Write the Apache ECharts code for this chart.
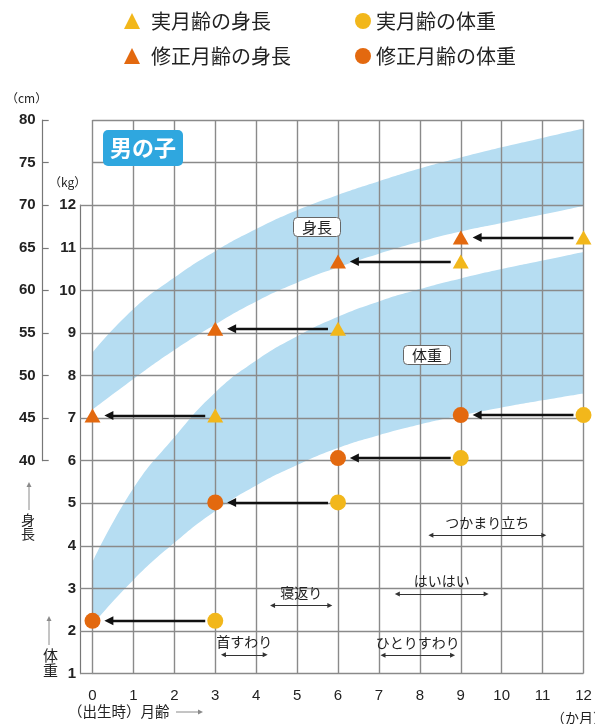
<!DOCTYPE html>
<html><head><meta charset="utf-8">
<script src="https://cdn.jsdelivr.net/npm/echarts@6/dist/echarts.min.js"></script>
<style>html,body{margin:0;padding:0;background:#fff}#c{width:595px;height:724px}</style>
</head><body><div id="c"></div>
<script>
// ---- data ----
const months = [0,1,2,3,4,5,6,7,8,9,10,11,12];
const heightLow  = [46.0,49.6,53.0,56.0,58.7,60.9,62.7,64.3,65.7,66.9,67.9,68.9,69.9];   // cm
const heightHigh = [52.7,57.8,61.5,64.6,67.2,69.4,71.2,72.8,74.3,75.6,76.8,77.9,79.0];   // cm
const weightLow  = [2.15,3.2,4.07,4.82,5.42,5.9,6.3,6.6,6.85,7.06,7.25,7.42,7.58];      // kg
const weightHigh = [3.62,5.35,6.55,7.6,8.35,8.92,9.38,9.74,10.03,10.28,10.5,10.7,10.9]; // kg
const actualMonths    = [3,6,9,12];
const correctedMonths = [0,3,6,9];
const heightValues = [45.3,55.5,63.4,66.2];  // cm
const weightValues = [2.24,5.02,6.06,7.07];  // kg
const milestoneNames = ['首すわり','寝返り','ひとりすわり','はいはい','つかまり立ち'];
const milestoneStart = [3.2,4.4,7.1,7.45,8.27];
const milestoneEnd   = [4.22,5.8,8.8,9.62,11.03];
const milestoneLevel = [1.44,2.6,1.43,2.87,4.25]; // kg
const kgTicks = [1,2,3,4,5,6,7,8,9,10,11,12];
const cmTicks = [40,45,50,55,60,65,70,75,80];
const monthTicks = [0,1,2,3,4,5,6,7,8,9,10,11,12];
const legendNames = ['実月齢の身長','実月齢の体重','修正月齢の身長','修正月齢の体重'];

const YELLOW = '#f2b71b', ORANGE = '#e3690f', BAND = '#b6ddf2';
const CJK = '"Noto Sans CJK JP", sans-serif';
const NUM = '"Liberation Sans", Arial, sans-serif';

const chart = echarts.init(document.getElementById('c'), null, {renderer:'canvas'});

function pairs(xs, ys){ return xs.map((x,i)=>[x, ys[i]]); }

const arrowStyle = {color:'#111', width:2.3, opacity:1, curveness:0};
function dataArrows(values){
  return actualMonths.map((m,i)=>({coords:[[m-0.245, values[i]],[correctedMonths[i]+0.40, values[i]]]}));
}

function arrowGraphic(x1,y1,x2,y2){
  const ang = Math.atan2(y2-y1, x2-x1);
  const L=5, W=2.5;
  const bx = x2 - L*Math.cos(ang), by = y2 - L*Math.sin(ang);
  const px = -Math.sin(ang)*W, py = Math.cos(ang)*W;
  return [
    {type:'line', shape:{x1,y1,x2:bx,y2:by}, style:{stroke:'#8a8a8a', lineWidth:1}, silent:true},
    {type:'polygon', shape:{points:[[x2,y2],[bx+px,by+py],[bx-px,by-py]]}, style:{fill:'#8a8a8a'}, silent:true}
  ];
}

// band = upper curve filled down to the axis bottom in blue, then lower curve filled in white
function bandSeries(yIdx, values, fill){
  return {type:'line', xAxisIndex:0, yAxisIndex:yIdx, data:pairs(months, values),
    symbol:'none', smooth:0.5, lineStyle:{width:0, opacity:0},
    areaStyle:{color:fill, opacity:1, origin:'start'}, silent:true, z:1};
}

function legendItem(name, left, top, pad){
  return {data:[name], left, top, itemWidth:16, itemHeight:16, selectedMode:false,
    textStyle:{fontSize:20, fontFamily:CJK, color:'#222', padding:[0,0,0,pad]}};
}

const option = {
  backgroundColor:'#fff',
  animation:false,
  legend:[
    legendItem(legendNames[0], 119, 6, 6),
    legendItem(legendNames[1], 350, 6, 0),
    legendItem(legendNames[2], 119, 41, 6),
    legendItem(legendNames[3], 350, 41, 0)
  ],
  title:[
    {text:'男の子', left:103, top:130, padding:[4,7], backgroundColor:'#2fa7df', borderRadius:5,
     textStyle:{color:'#fff', fontSize:22, fontWeight:'bold', fontFamily:CJK, lineHeight:28}},
    {text:'身長', left:293, top:217, padding:[2,9], backgroundColor:'#fff', borderColor:'#666', borderWidth:1, borderRadius:4,
     textStyle:{color:'#222', fontSize:15, fontWeight:'normal', fontFamily:CJK, lineHeight:16}},
    {text:'体重', left:403, top:345, padding:[2,9], backgroundColor:'#fff', borderColor:'#666', borderWidth:1, borderRadius:4,
     textStyle:{color:'#222', fontSize:15, fontWeight:'normal', fontFamily:CJK, lineHeight:16}},
    {text:'（cm）', left:6, top:91, padding:0, textStyle:{color:'#222', fontSize:12, fontWeight:'normal', fontFamily:CJK, lineHeight:14}},
    {text:'（kg）', left:49, top:175, padding:0, textStyle:{color:'#222', fontSize:12, fontWeight:'normal', fontFamily:CJK, lineHeight:14}},
    {text:'身\n長', left:21, top:513, padding:0, textStyle:{color:'#222', fontSize:14, fontWeight:'normal', fontFamily:CJK, lineHeight:14}},
    {text:'体\n重', left:43, top:648, padding:0, textStyle:{color:'#222', fontSize:15, fontWeight:'normal', fontFamily:CJK, lineHeight:15}},
    {text:'（出生時）月齢', left:68, top:703, padding:0, textStyle:{color:'#222', fontSize:14.5, fontWeight:'normal', fontFamily:CJK, lineHeight:16}},
    {text:'（か月）', left:551, top:710, padding:0, textStyle:{color:'#222', fontSize:14, fontWeight:'normal', fontFamily:CJK, lineHeight:16}}
  ],
  graphic:[].concat(
    arrowGraphic(29,510,29,482),
    arrowGraphic(49,645,49,616),
    arrowGraphic(176,712,203,712)
  ),
  grid:[
    {left:92.5, top:120, width:491, height:553.6, outerBoundsMode:'none'},
    {left:80, top:205.2, width:10, height:468.4, outerBoundsMode:'none'},
    {left:42.7, top:120, width:10, height:340.7, outerBoundsMode:'none'}
  ],
  xAxis:[
    {gridIndex:0, type:'value', min:0, max:12, interval:1, z:3,
     axisLine:{show:false}, axisTick:{show:false},
     splitLine:{show:true, lineStyle:{color:'#8a8a8a', width:1.4}},
     axisLabel:{show:true, customValues:monthTicks, color:'#222', fontSize:15, fontFamily:NUM, margin:15}},
    {gridIndex:1, type:'value', min:0, max:1, show:false},
    {gridIndex:2, type:'value', min:0, max:1, show:false}
  ],
  yAxis:[
    {gridIndex:0, type:'value', min:1, max:14, interval:1, z:3,
     axisLine:{show:false}, axisTick:{show:false}, axisLabel:{show:false},
     splitLine:{show:true, lineStyle:{color:'#8a8a8a', width:1.4}}},
    {gridIndex:0, type:'value', min:15, max:80, interval:5, show:false},
    {gridIndex:1, type:'value', min:1, max:12, interval:1, position:'left',
     axisLine:{show:true, lineStyle:{color:'#777', width:1.2}},
     axisTick:{show:true, inside:true, length:13, customValues:kgTicks, lineStyle:{color:'#8a8a8a', width:1.4}},
     splitLine:{show:false},
     axisLabel:{show:true, customValues:kgTicks, color:'#222', fontSize:15, fontWeight:'bold', fontFamily:NUM, margin:4}},
    {gridIndex:2, type:'value', min:40, max:80, interval:5, position:'left',
     axisLine:{show:true, lineStyle:{color:'#777', width:1.2}},
     axisTick:{show:true, inside:true, length:6, customValues:cmTicks, lineStyle:{color:'#777', width:1.2}},
     splitLine:{show:false},
     axisLabel:{show:true, customValues:cmTicks, color:'#222', fontSize:15, fontWeight:'bold', fontFamily:NUM, margin:7}}
  ],
  series:[
    bandSeries(1, heightHigh, BAND),
    bandSeries(1, heightLow, '#ffffff'),
    bandSeries(0, weightHigh, BAND),
    bandSeries(0, weightLow, '#ffffff'),

    {type:'lines', coordinateSystem:'cartesian2d', xAxisIndex:0, yAxisIndex:1, data:dataArrows(heightValues),
     symbol:['none','triangle'], symbolSize:[9,9], lineStyle:arrowStyle, silent:true, z:4},
    {type:'lines', coordinateSystem:'cartesian2d', xAxisIndex:0, yAxisIndex:0, data:dataArrows(weightValues),
     symbol:['none','triangle'], symbolSize:[9,9], lineStyle:arrowStyle, silent:true, z:4},

    {type:'lines', coordinateSystem:'cartesian2d', xAxisIndex:0, yAxisIndex:0,
     data:milestoneNames.map((n,i)=>({name:n, coords:[[milestoneStart[i],milestoneLevel[i]],[milestoneEnd[i],milestoneLevel[i]]]})),
     symbol:['triangle','triangle'], symbolSize:[5,5], lineStyle:{color:'#333', width:1.2, opacity:1, curveness:0},
     label:{show:true, position:'insideMiddleTop', distance:6, formatter:p=>p.name, color:'#222', fontSize:14, fontFamily:CJK},
     silent:true, z:4},

    {type:'scatter', name:legendNames[0], xAxisIndex:0, yAxisIndex:1, data:pairs(actualMonths,heightValues),
     symbol:'triangle', symbolSize:[16,14], itemStyle:{color:YELLOW, opacity:1}, z:5},
    {type:'scatter', name:legendNames[2], xAxisIndex:0, yAxisIndex:1, data:pairs(correctedMonths,heightValues),
     symbol:'triangle', symbolSize:[16,14], itemStyle:{color:ORANGE, opacity:1}, z:5},
    {type:'scatter', name:legendNames[1], xAxisIndex:0, yAxisIndex:0, data:pairs(actualMonths,weightValues),
     symbol:'circle', symbolSize:16, itemStyle:{color:YELLOW, opacity:1}, z:5},
    {type:'scatter', name:legendNames[3], xAxisIndex:0, yAxisIndex:0, data:pairs(correctedMonths,weightValues),
     symbol:'circle', symbolSize:16, itemStyle:{color:ORANGE, opacity:1}, z:5}
  ]
};
chart.setOption(option);
</script></body></html>
